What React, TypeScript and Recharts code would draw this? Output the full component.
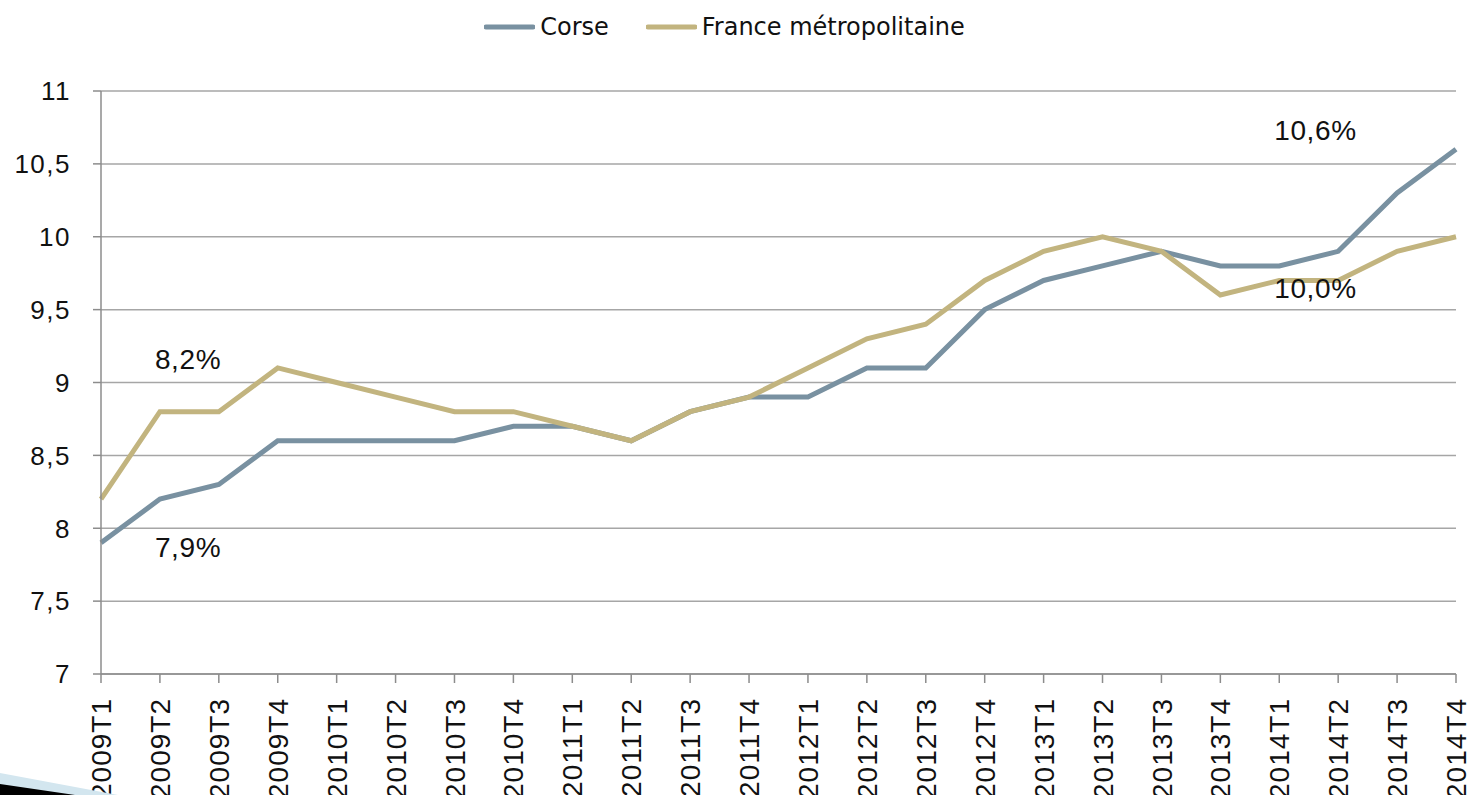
import React from "react";
import {
  LineChart,
  Line,
  XAxis,
  YAxis,
  CartesianGrid,
  Legend,
  ReferenceDot,
} from "recharts";

const categories = [
  "2009T1", "2009T2", "2009T3", "2009T4",
  "2010T1", "2010T2", "2010T3", "2010T4",
  "2011T1", "2011T2", "2011T3", "2011T4",
  "2012T1", "2012T2", "2012T3", "2012T4",
  "2013T1", "2013T2", "2013T3", "2013T4",
  "2014T1", "2014T2", "2014T3", "2014T4",
];

const corse = [
  7.9, 8.2, 8.3, 8.6,
  8.6, 8.6, 8.6, 8.7,
  8.7, 8.6, 8.8, 8.9,
  8.9, 9.1, 9.1, 9.5,
  9.7, 9.8, 9.9, 9.8,
  9.8, 9.9, 10.3, 10.6,
];

const france = [
  8.2, 8.8, 8.8, 9.1,
  9.0, 8.9, 8.8, 8.8,
  8.7, 8.6, 8.8, 8.9,
  9.1, 9.3, 9.4, 9.7,
  9.9, 10.0, 9.9, 9.6,
  9.7, 9.7, 9.9, 10.0,
];

const yTicks = [7, 7.5, 8, 8.5, 9, 9.5, 10, 10.5, 11];

const annotations = [
  { x: "2009T2", y: 9.16, text: "8,2%" },
  { x: "2009T2", y: 7.87, text: "7,9%" },
  { x: "2014T1", y: 10.73, text: "10,6%" },
  { x: "2014T1", y: 9.65, text: "10,0%" },
];

const data = categories.map((c, i) => ({
  cat: c,
  corse: corse[i],
  france: france[i],
}));

const TICK_FONT = "'Liberation Sans', Arial, sans-serif";
const LEGEND_FONT = "'DejaVu Sans', sans-serif";
const CORSE_COLOR = "#7991a1";
const FRANCE_COLOR = "#c2b47f";

const XTick = (props: any) => {
  const { x, y, payload } = props;
  const ty = y + 13;
  return (
    <text
      x={x}
      y={ty}
      transform={`rotate(-90, ${x}, ${ty})`}
      textAnchor="end"
      dy="0.36em"
      fontSize={28}
      fontFamily={TICK_FONT}
      letterSpacing={1}
      fill="#111"
    >
      {payload.value}
    </text>
  );
};

const YTick = (props: any) => {
  const { x, y, payload } = props;
  return (
    <text
      x={x}
      y={y}
      textAnchor="end"
      dy="0.36em"
      fontSize={26}
      fontFamily={TICK_FONT}
      letterSpacing={1.5}
      fill="#111"
    >
      {String(payload.value).replace(".", ",")}
    </text>
  );
};

const LegendContent = (props: any) => {
  const { payload } = props;
  return (
    <div
      style={{
        height: 86,
        display: "flex",
        justifyContent: "center",
        alignItems: "flex-start",
        paddingTop: 8,
        paddingRight: 7,
        boxSizing: "border-box",
        fontFamily: LEGEND_FONT,
        fontSize: 24,
        color: "#111",
      }}
    >
      {(payload || []).map((p: any, i: number) => (
        <div
          key={i}
          style={{ display: "flex", alignItems: "center", marginRight: i === 0 ? 37 : 0 }}
        >
          <svg width={51} height={10} style={{ marginRight: 5 }}>
            <line x1={2} y1={5} x2={49} y2={5} stroke={p.color} strokeWidth={5} strokeLinecap="round" />
          </svg>
          <span>{p.value}</span>
        </div>
      ))}
    </div>
  );
};

const AnnotationLabel = (text: string) => (props: any) => {
  const { viewBox } = props;
  const cx = viewBox.x + (viewBox.width || 0) / 2;
  const cy = viewBox.y + (viewBox.height || 0) / 2;
  return (
    <text
      x={cx - 5}
      y={cy}
      dy="0.36em"
      textAnchor="start"
      fontSize={28}
      fontFamily={TICK_FONT}
      letterSpacing={0.6}
      fill="#111"
    >
      {text}
    </text>
  );
};

const Decoration = () => (
  <svg
    width={160}
    height={40}
    style={{ position: "absolute", left: 0, top: 755, pointerEvents: "none" }}
  >
    <polygon points="0,18 118,40 0,40" fill="#d3e6ef" />
    <polygon points="0,29 75,40 0,40" fill="#000" />
  </svg>
);

export default function App() {
  return (
    <div style={{ position: "absolute", left: 0, top: 0, width: 1470, height: 795, overflow: "hidden", background: "#fff" }}>
      <LineChart
        width={1470}
        height={860}
        data={data}
        margin={{ top: 5, right: 14, bottom: 0, left: 0 }}
      >
        <CartesianGrid vertical={false} stroke="#a6a6a6" strokeWidth={1.5} />
        <XAxis
          dataKey="cat"
          scale="point"
          padding={{ left: 0, right: 0 }}
          interval={0}
          tick={<XTick />}
          tickSize={9}
          height={186}
          axisLine={{ stroke: "#8c8c8c", strokeWidth: 1.5 }}
          tickLine={{ stroke: "#8c8c8c", strokeWidth: 1.5 }}
        />
        <YAxis
          domain={[7, 11]}
          ticks={yTicks}
          interval={0}
          width={101}
          tickSize={8}
          tickMargin={22}
          tick={<YTick />}
          axisLine={{ stroke: "#8c8c8c", strokeWidth: 1.5 }}
          tickLine={{ stroke: "#8c8c8c", strokeWidth: 1.5 }}
        />
        <Legend verticalAlign="top" align="center" content={<LegendContent />} />
        <Line
          name="Corse"
          dataKey="corse"
          stroke={CORSE_COLOR}
          strokeWidth={5}
          dot={false}
          activeDot={false}
          isAnimationActive={false}
        />
        <Line
          name="France métropolitaine"
          dataKey="france"
          stroke={FRANCE_COLOR}
          strokeWidth={5}
          dot={false}
          activeDot={false}
          isAnimationActive={false}
        />
        {annotations.map((a, i) => (
          <ReferenceDot
            key={i}
            x={a.x}
            y={a.y}
            r={0}
            fill="none"
            stroke="none"
            label={AnnotationLabel(a.text)}
          />
        ))}
      </LineChart>
      <Decoration />
    </div>
  );
}
